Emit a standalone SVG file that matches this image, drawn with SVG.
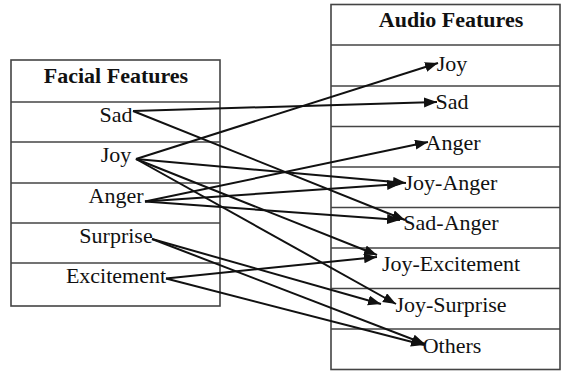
<svg xmlns="http://www.w3.org/2000/svg" width="561" height="371" viewBox="0 0 561 371">
<style>
.box{fill:#fff;stroke:#444;stroke-width:1.6}
.row{stroke:#444;stroke-width:1.6}
.t{font-family:"Liberation Serif","Times New Roman",serif;font-size:22px;fill:#111;text-anchor:middle}
.h{font-weight:bold}
.c{stroke:#111;stroke-width:2;fill:none;marker-end:url(#ah)}
</style>
<defs>
<marker id="ah" markerUnits="userSpaceOnUse" markerWidth="14" markerHeight="11" refX="13" refY="5" orient="auto">
<path d="M0,0 L13,5 L0,10 z" fill="#111"/>
</marker>
</defs>
<g id="facial-features">
<rect class="box" x="11" y="60" width="209" height="246"/>
<line class="row" x1="11" y1="102" x2="220" y2="102"/>
<line class="row" x1="11" y1="142" x2="220" y2="142"/>
<line class="row" x1="11" y1="183" x2="220" y2="183"/>
<line class="row" x1="11" y1="223" x2="220" y2="223"/>
<line class="row" x1="11" y1="263" x2="220" y2="263"/>
<text class="t h" x="116" y="83">Facial Features</text>
<text class="t" x="116" y="122">Sad</text>
<text class="t" x="116" y="162">Joy</text>
<text class="t" x="116" y="203">Anger</text>
<text class="t" x="116" y="243">Surprise</text>
<text class="t" x="116" y="283">Excitement</text>
</g>
<g id="audio-features">
<rect class="box" x="331" y="4.5" width="229" height="365"/>
<line class="row" x1="331" y1="45" x2="560" y2="45"/>
<line class="row" x1="331" y1="86" x2="560" y2="86"/>
<line class="row" x1="331" y1="126.5" x2="560" y2="126.5"/>
<line class="row" x1="331" y1="167" x2="560" y2="167"/>
<line class="row" x1="331" y1="207.5" x2="560" y2="207.5"/>
<line class="row" x1="331" y1="248" x2="560" y2="248"/>
<line class="row" x1="331" y1="288.5" x2="560" y2="288.5"/>
<line class="row" x1="331" y1="329" x2="560" y2="329"/>
<text class="t h" x="451" y="27">Audio Features</text>
<text class="t" x="452" y="71">Joy</text>
<text class="t" x="452" y="109">Sad</text>
<text class="t" x="453" y="150">Anger</text>
<text class="t" x="451" y="190">Joy-Anger</text>
<text class="t" x="451" y="230">Sad-Anger</text>
<text class="t" x="451" y="271">Joy-Excitement</text>
<text class="t" x="451" y="312">Joy-Surprise</text>
<text class="t" x="452" y="353">Others</text>
</g>
<g id="connectors">
<line class="c" x1="133" y1="111" x2="437" y2="102"/>
<line class="c" x1="133" y1="111" x2="405" y2="220"/>
<line class="c" x1="136" y1="159" x2="438" y2="63"/>
<line class="c" x1="136" y1="159" x2="406" y2="183"/>
<line class="c" x1="136" y1="159" x2="377" y2="255"/>
<line class="c" x1="136" y1="159" x2="396" y2="304"/>
<line class="c" x1="145" y1="201.5" x2="428" y2="142"/>
<line class="c" x1="145" y1="201.5" x2="400" y2="184"/>
<line class="c" x1="145" y1="201.5" x2="400" y2="220"/>
<line class="c" x1="152" y1="239" x2="381" y2="304"/>
<line class="c" x1="152" y1="239" x2="425" y2="344"/>
<line class="c" x1="166" y1="278.5" x2="377" y2="257"/>
<line class="c" x1="166" y1="278.5" x2="424" y2="345"/>
</g>
</svg>
